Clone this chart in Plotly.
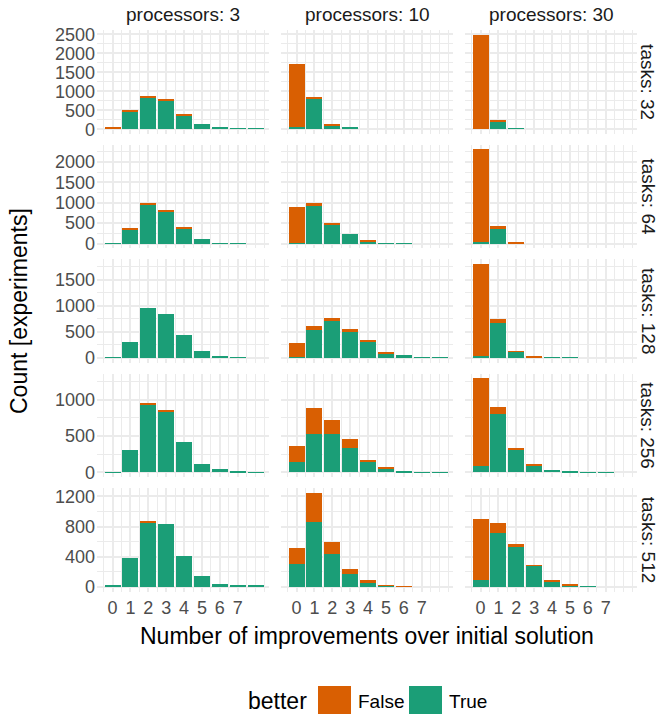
import numpy as np
import plotly.graph_objects as go

# ---------------- data ----------------
TASKS = [32, 64, 128, 256, 512]
PROCESSORS = [3, 10, 30]
IMPROVEMENTS = [0, 1, 2, 3, 4, 5, 6, 7, 8]
X_TICKS = [0, 1, 2, 3, 4, 5, 6, 7]

# one list per processor count (3, 10, 30); values per improvement count 0..8
true_t32 = [
    [5, 450, 830, 757, 357, 130, 35, 12, 8],
    [53, 783, 97, 26, 0, 0, 0, 0, 0],
    [10, 196, 12, 0, 0, 0, 0, 0, 0],
]
false_t32 = [
    [30, 28, 31, 26, 34, 0, 0, 0, 0],
    [1663, 62, 35, 0, 0, 0, 0, 0, 0],
    [2470, 44, 0, 0, 0, 0, 0, 0, 0],
]
true_t64 = [
    [15, 345, 965, 785, 385, 105, 15, 15, 0],
    [15, 930, 480, 230, 60, 15, 15, 0, 0],
    [40, 385, 15, 0, 0, 0, 0, 0, 0],
]
false_t64 = [
    [0, 25, 25, 30, 15, 0, 0, 0, 0],
    [870, 75, 15, 0, 25, 0, 0, 0, 0],
    [2265, 40, 25, 0, 0, 0, 0, 0, 0],
]
true_t128 = [
    [15, 310, 960, 840, 440, 130, 40, 15, 0],
    [19, 528, 719, 502, 312, 83, 51, 13, 13],
    [40, 670, 115, 15, 15, 15, 0, 0, 0],
]
false_t128 = [
    [0, 0, 0, 0, 0, 0, 0, 0, 0],
    [261, 76, 38, 45, 31, 25, 0, 0, 0],
    [1760, 80, 15, 20, 0, 0, 0, 0, 0],
]
true_t256 = [
    [10, 315, 935, 850, 425, 115, 45, 18, 10],
    [145, 530, 525, 340, 140, 60, 15, 5, 5],
    [85, 805, 308, 106, 28, 14, 5, 5, 0],
]
false_t256 = [
    [0, 0, 15, 15, 0, 0, 0, 0, 0],
    [225, 360, 195, 120, 35, 10, 0, 0, 0],
    [1212, 101, 32, 14, 0, 0, 0, 0, 0],
]
true_t512 = [
    [17, 383, 857, 831, 409, 148, 43, 17, 17],
    [300, 865, 435, 165, 60, 15, 0, 0, 0],
    [95, 710, 525, 280, 70, 20, 10, 0, 0],
]
false_t512 = [
    [0, 0, 13, 0, 0, 0, 0, 0, 0],
    [210, 385, 165, 65, 25, 10, 10, 0, 0],
    [805, 135, 40, 5, 15, 20, 0, 0, 0],
]
TRUE_ROWS = [true_t32, true_t64, true_t128, true_t256, true_t512]
FALSE_ROWS = [false_t32, false_t64, false_t128, false_t256, false_t512]
Y_STEP = [500, 500, 500, 500, 400]

# ---------------- style ----------------
W, H = 663, 715
FONT = "Liberation Sans, Arial, sans-serif"
C_FALSE = "#d95f02"
C_TRUE = "#1b9e77"
GRID = "#ebebeb"
COL_X = [(97, 269), (281, 453), (465, 637)]
ROW_TOP0, ROW_PITCH, ROW_H = 30.3, 114.4, 103.6
X_RANGE = [-0.87, 8.75]
TICK = 18
SMALL = 19
BIG = 23

fig = go.Figure()
layout = dict()
annotations = []
shapes = []

for r, t in enumerate(TASKS):
    totals = [np.array(TRUE_ROWS[r][c]) + np.array(FALSE_ROWS[r][c]) for c in range(3)]
    ymax = max(float(v.max()) for v in totals)
    yr = [-0.05 * ymax, 1.05 * ymax]
    step = Y_STEP[r]
    majors = list(np.arange(0, yr[1], step))
    minors = list(np.arange(0, yr[1], step / 2))
    top = ROW_TOP0 + r * ROW_PITCH
    bot = top + ROW_H
    ydom = [1 - bot / H, 1 - top / H]
    for c, p in enumerate(PROCESSORS):
        idx = r * 3 + c + 1
        xa = "x" if idx == 1 else f"x{idx}"
        ya = "y" if idx == 1 else f"y{idx}"
        fig.add_trace(go.Bar(x=IMPROVEMENTS, y=TRUE_ROWS[r][c], marker_color=C_TRUE,
                             marker_line_width=0, width=0.9, name="True",
                             showlegend=False, xaxis=xa, yaxis=ya))
        fig.add_trace(go.Bar(x=IMPROVEMENTS, y=FALSE_ROWS[r][c], marker_color=C_FALSE,
                             marker_line_width=0, width=0.9, name="False",
                             showlegend=False, xaxis=xa, yaxis=ya))
        x0, x1 = COL_X[c]
        xkey = "xaxis" if idx == 1 else f"xaxis{idx}"
        ykey = "yaxis" if idx == 1 else f"yaxis{idx}"
        layout[xkey] = dict(
            domain=[x0 / W, x1 / W], anchor=ya, range=X_RANGE,
            tickmode="array", tickvals=X_TICKS, ticktext=[str(v) for v in X_TICKS],
            showticklabels=(r == len(TASKS) - 1), ticks="",
            tickfont=dict(family=FONT, size=TICK, color="#4d4d4d"),
            ticklabelstandoff=3,
            showgrid=True, gridcolor=GRID, gridwidth=2, zeroline=False, showline=False,
            minor=dict(tickmode="array", tickvals=list(np.arange(-0.5, X_RANGE[1], 0.5)),
                       showgrid=True, gridcolor=GRID, gridwidth=1, ticks=""),
            automargin=False, fixedrange=True,
        )
        layout[ykey] = dict(
            domain=ydom, anchor=xa, range=yr,
            tickmode="array", tickvals=majors, ticktext=[f"{int(v)}" for v in majors],
            showticklabels=(c == 0), ticks="",
            tickfont=dict(family=FONT, size=TICK, color="#4d4d4d"),
            ticklabelstandoff=1,
            showgrid=True, gridcolor=GRID, gridwidth=2, zeroline=False, showline=False,
            minor=dict(tickmode="array", tickvals=minors, showgrid=True,
                       gridcolor=GRID, gridwidth=1, ticks=""),
            automargin=False, fixedrange=True,
        )
        if r == 0:
            annotations.append(dict(text=f"processors: {p}", xref="paper", yref="paper",
                                    x=(x0 + x1) / 2 / W, y=1 - 15 / H, showarrow=False,
                                    xanchor="center", yanchor="middle",
                                    font=dict(family=FONT, size=SMALL, color="#1a1a1a")))
    annotations.append(dict(text=f"tasks: {t}", xref="paper", yref="paper",
                            x=648 / W, y=1 - (top + bot) / 2 / H, showarrow=False,
                            textangle=90, xanchor="center", yanchor="middle",
                            font=dict(family=FONT, size=SMALL, color="#1a1a1a")))

# axis titles
annotations.append(dict(text="Number of improvements over initial solution", xref="paper", yref="paper",
                        x=367 / W, y=1 - 636 / H, showarrow=False, xanchor="center", yanchor="middle",
                        font=dict(family=FONT, size=BIG, color="black")))
annotations.append(dict(text="Count [experiments]", xref="paper", yref="paper",
                        x=19 / W, y=1 - 311 / H, showarrow=False, textangle=-90,
                        xanchor="center", yanchor="middle",
                        font=dict(family=FONT, size=BIG, color="black")))

# legend (drawn manually to get ggplot-sized keys)
LEG_Y0, LEG_Y1 = 686, 714
LEG_TY = 701
annotations.append(dict(text="better", xref="paper", yref="paper", x=246 / W, y=1 - LEG_TY / H,
                        showarrow=False, xanchor="left", yanchor="middle",
                        font=dict(family=FONT, size=BIG, color="black")))
for (kx0, kx1, tx, label, col) in [(318, 351, 356, "False", C_FALSE), (409, 442, 447, "True", C_TRUE)]:
    shapes.append(dict(type="rect", xref="paper", yref="paper", x0=kx0 / W, x1=kx1 / W,
                       y0=1 - LEG_Y1 / H, y1=1 - LEG_Y0 / H, fillcolor=col, line=dict(width=0)))
    annotations.append(dict(text=label, xref="paper", yref="paper", x=tx / W, y=1 - LEG_TY / H,
                            showarrow=False, xanchor="left", yanchor="middle",
                            font=dict(family=FONT, size=SMALL, color="black")))

fig.update_layout(
    width=W, height=H, autosize=False,
    margin=dict(l=0, r=0, t=0, b=0),
    paper_bgcolor="white", plot_bgcolor="white",
    barmode="stack", bargap=0.1, showlegend=False,
    annotations=annotations, shapes=shapes,
    font=dict(family=FONT),
    **layout,
)

fig.write_html("out.html", config={"displayModeBar": False},
               post_script="document.body.style.margin='0px';")
